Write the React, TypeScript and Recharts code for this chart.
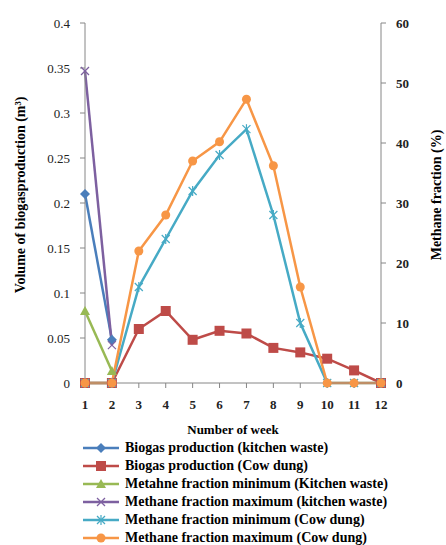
import React from 'react';
import { LineChart, Line, XAxis, YAxis } from 'recharts';

// week numbers on the x axis
const weeks = [1, 2, 3, 4, 5, 6, 7, 8, 9, 10, 11, 12];

// biogas volume (m3), left axis
const biogasKitchen = [0.21, 0.048, null, null, null, null, null, null, null, null, null, null];
const biogasCow = [0, 0, 0.06, 0.08, 0.048, 0.058, 0.055, 0.039, 0.034, 0.027, 0.014, 0];

// methane fraction (%), right axis
const methaneMinKitchen = [12, 2, null, null, null, null, null, null, null, null, null, null];
const methaneMaxKitchen = [52, 6.3, null, null, null, null, null, null, null, null, null, null];
const methaneMinCow = [0, 0, 16, 24, 32, 38, 42.3, 28, 10, 0, 0, 0];
const methaneMaxCow = [0, 0, 22, 28, 37, 40.2, 47.3, 36.2, 16, 0, 0, 0];

const leftTicks = [0, 0.05, 0.1, 0.15, 0.2, 0.25, 0.3, 0.35, 0.4];
const rightTicks = [0, 10, 20, 30, 40, 50, 60];

const series = [
  { key: 'bk', name: 'Biogas production (kitchen waste)', values: biogasKitchen, color: '#4A7EBB', axis: 'left', shape: 'diamond' },
  { key: 'bc', name: 'Biogas production (Cow dung)', values: biogasCow, color: '#BE4B48', axis: 'left', shape: 'square' },
  { key: 'mnk', name: 'Metahne fraction minimum (Kitchen waste)', values: methaneMinKitchen, color: '#98B954', axis: 'right', shape: 'triangle' },
  { key: 'mxk', name: 'Methane fraction maximum (kitchen waste)', values: methaneMaxKitchen, color: '#7D60A0', axis: 'right', shape: 'x' },
  { key: 'mnc', name: 'Methane fraction minimum (Cow dung)', values: methaneMinCow, color: '#46AAC5', axis: 'right', shape: 'star' },
  { key: 'mxc', name: 'Methane fraction maximum (Cow dung)', values: methaneMaxCow, color: '#F79646', axis: 'right', shape: 'circle' },
];

const data = weeks.map((week, i) => {
  const row: any = { week };
  series.forEach(s => { row[s.key] = s.values[i]; });
  return row;
});

const FONT = 'Liberation Serif, DejaVu Serif, serif';
const AXIS = '#868686';

const Marker = ({ cx, cy, shape, color }: any) => {
  if (cx == null || cy == null || isNaN(cx) || isNaN(cy)) return <g />;
  switch (shape) {
    case 'diamond':
      return <polygon points={`${cx},${cy - 5} ${cx + 5},${cy} ${cx},${cy + 5} ${cx - 5},${cy}`} fill={color} />;
    case 'square':
      return <rect x={cx - 5} y={cy - 5} width={10} height={10} fill={color} />;
    case 'triangle':
      return <polygon points={`${cx},${cy - 5} ${cx + 5},${cy + 4} ${cx - 5},${cy + 4}`} fill={color} />;
    case 'x':
      return (
        <g stroke={color} strokeWidth={1.2}>
          <line x1={cx - 4} y1={cy - 4} x2={cx + 4} y2={cy + 4} />
          <line x1={cx - 4} y1={cy + 4} x2={cx + 4} y2={cy - 4} />
        </g>
      );
    case 'star':
      return (
        <g stroke={color} strokeWidth={1.2}>
          <line x1={cx - 4} y1={cy - 4} x2={cx + 4} y2={cy + 4} />
          <line x1={cx - 4} y1={cy + 4} x2={cx + 4} y2={cy - 4} />
          <line x1={cx} y1={cy - 5} x2={cx} y2={cy + 5} />
        </g>
      );
    default:
      return <circle cx={cx} cy={cy} r={4.5} fill={color} />;
  }
};

const AxisTitle = ({ viewBox, value, dx }: any) => {
  const x = viewBox.x + dx;
  const y = viewBox.y + viewBox.height / 2 - 8;
  return (
    <text x={x} y={y} transform={`rotate(-90, ${x}, ${y})`} textAnchor="middle" dominantBaseline="central"
      fontFamily={FONT} fontWeight="bold" fontSize={14} fill="#000">
      {value}
    </text>
  );
};

const tickStyle = { fontFamily: FONT, fontSize: 13, fill: '#222' };

export default function App() {
  return (
    <div style={{ position: 'absolute', left: 0, top: 0, width: 446, height: 545, background: '#fff', fontFamily: FONT }}>
      <LineChart width={446} height={440} data={data} margin={{ top: 23, right: 0, bottom: 0, left: 0 }} style={{ fontFamily: FONT }}>
        <XAxis
          dataKey="week" type="number" domain={[1, 12]} ticks={weeks} allowDecimals={false}
          height={57} stroke={AXIS} tickSize={5} tickMargin={12} tick={{ ...tickStyle, fontWeight: 'bold' }}
          label={{ value: 'Number of week', position: 'insideBottom', offset: 6, style: { fontFamily: FONT, fontWeight: 'bold', fontSize: 13, fill: '#000' } }}
        />
        <YAxis
          yAxisId="left" domain={[0, 0.4]} ticks={leftTicks} width={85} stroke={AXIS}
          tickSize={5} tickMargin={10} tick={tickStyle}
          label={{ value: 'Volume of biogasproduction (m³)', content: (p: any) => <AxisTitle {...p} value="Volume of biogasproduction (m³)" dx={20} /> }}
        />
        <YAxis
          yAxisId="right" orientation="right" domain={[0, 60]} ticks={rightTicks} width={65} stroke={AXIS}
          tickSize={5} tickMargin={10} tick={{ ...tickStyle, fontWeight: 'bold' }}
          label={{ value: 'Methane fraction (%)', content: (p: any) => <AxisTitle {...p} value="Methane fraction (%)" dx={55} /> }}
        />
        {series.map(s => (
          <Line
            key={s.key} yAxisId={s.axis} dataKey={s.key} name={s.name} stroke={s.color} strokeWidth={2.5}
            isAnimationActive={false} activeDot={false}
            dot={(p: any) => <Marker key={`${s.key}-${p.index}`} cx={p.cx} cy={p.cy} shape={s.shape} color={s.color} />}
          />
        ))}
      </LineChart>
      <div style={{ position: 'absolute', left: 83, top: 439 }}>
        {series.map(s => (
          <div key={s.key} style={{ display: 'flex', alignItems: 'center', height: 18 }}>
            <svg width={36} height={14} style={{ marginRight: 6 }}>
              <line x1={0} y1={7} x2={36} y2={7} stroke={s.color} strokeWidth={2.5} />
              <Marker cx={18} cy={7} shape={s.shape} color={s.color} />
            </svg>
            <span style={{ fontFamily: FONT, fontWeight: 'bold', fontSize: 14, color: '#000', whiteSpace: 'nowrap' }}>{s.name}</span>
          </div>
        ))}
      </div>
    </div>
  );
}
